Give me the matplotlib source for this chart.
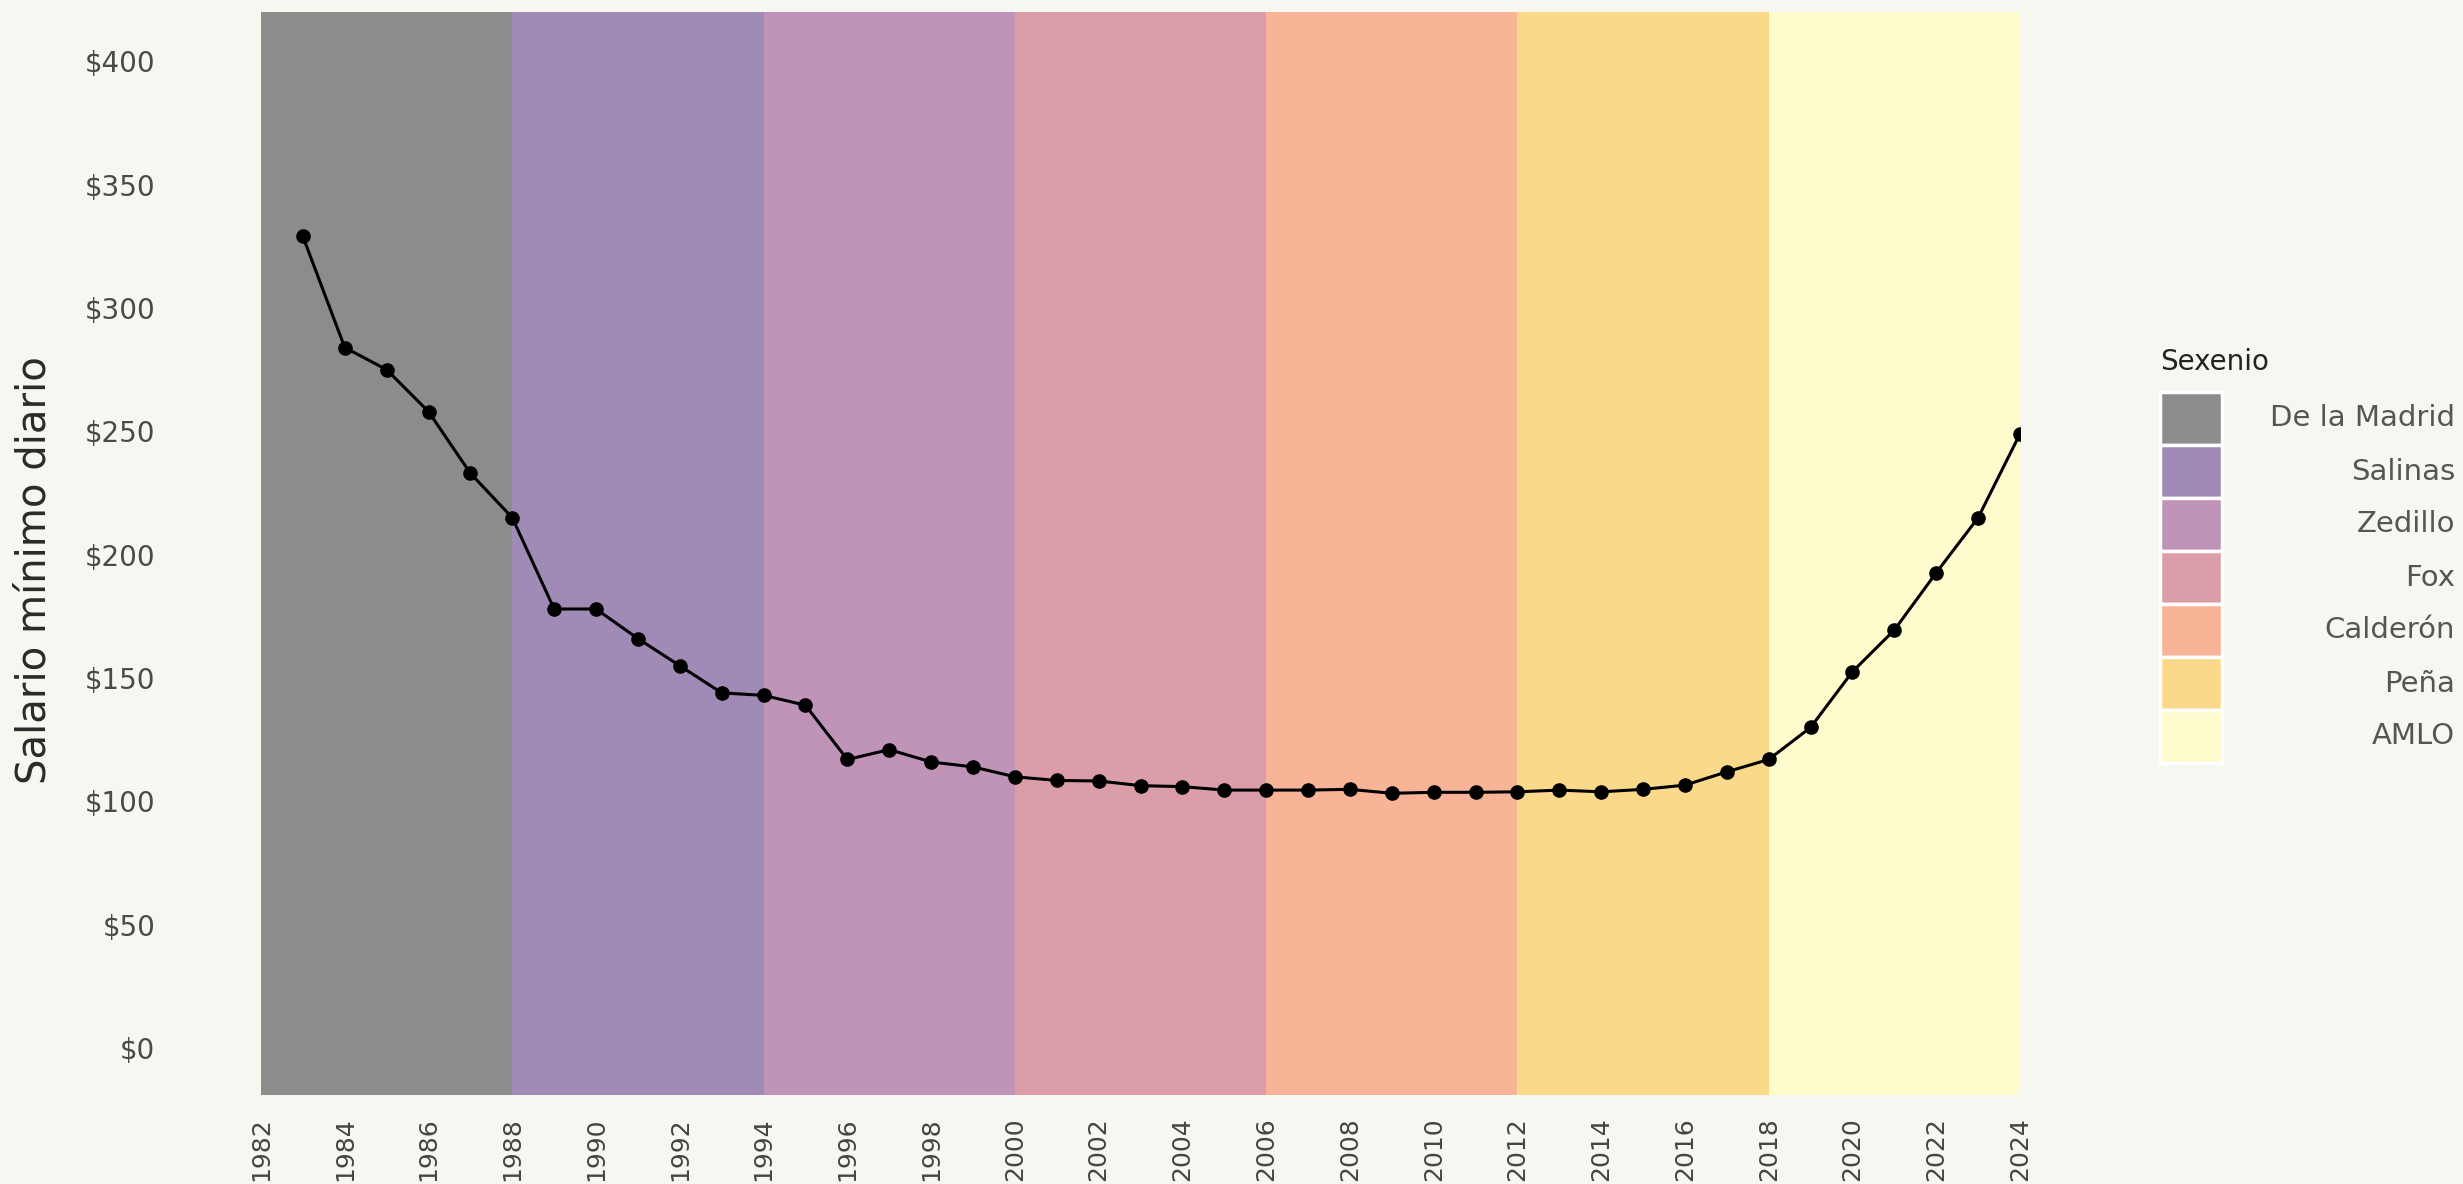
import matplotlib
matplotlib.use('Agg')
import matplotlib.pyplot as plt
from matplotlib.patches import Rectangle
from matplotlib.ticker import FuncFormatter

# Salario mínimo diario (pesos constantes)
years = list(range(1983, 2025))
salario = [329, 284, 275, 258, 233, 215, 178, 178, 166, 155,
           144, 143, 139, 117, 121, 116, 114, 110, 108.5, 108.3,
           106.4, 106, 104.6, 104.6, 104.6, 104.9, 103.3, 103.7, 103.7, 103.9,
           104.6, 103.9, 104.9, 106.6, 112, 117, 130, 152.6, 169.5, 192.7,
           215, 249]

# Sexenios
sexenios = ['De la Madrid', 'Salinas', 'Zedillo', 'Fox', 'Calderón', 'Peña', 'AMLO']
inicio = [1982, 1988, 1994, 2000, 2006, 2012, 2018]
fin = [1988, 1994, 2000, 2006, 2012, 2018, 2024]
colores = ['#8c8c8c', '#9f8bb5', '#c093b8', '#db9ea9', '#f8b496', '#fbd98b', '#fefccc']

BG = '#f7f7f2'
W, H, DPI = 2463, 1184, 100

fig = plt.figure(figsize=(W / DPI, H / DPI), dpi=DPI, facecolor=BG)
ax = fig.add_axes([261 / W, 1 - 1095 / H, (2020 - 261) / W, (1095 - 12) / H])
ax.set_facecolor(BG)

for x0, x1, c in zip(inicio, fin, colores):
    ax.axvspan(x0, x1, color=c, lw=0, zorder=1)

ax.plot(years, salario, color='black', lw=2.2, marker='o', markersize=9.5, zorder=3)

ax.set_xlim(1982, 2024)
ax.set_ylim(-19, 420)
ax.set_xticks(range(1982, 2025, 2))
ax.set_yticks(range(0, 401, 50))
ax.yaxis.set_major_formatter(FuncFormatter(lambda v, p: f'${v:.0f}'))
ax.tick_params(axis='x', rotation=90, labelsize=18, length=0, pad=16, colors='#444444')
ax.tick_params(axis='y', labelsize=20, length=0, pad=76, colors='#4a4a4a')
for s in ax.spines.values():
    s.set_visible(False)

ax.set_ylabel('Salario mínimo diario', fontsize=29, color='#2a2a2a')
ax.yaxis.set_label_coords((55 - 261) / 1759, 0.485)

# leyenda a mano (etiquetas alineadas a la derecha)
fig.text(2160 / W, 1 - 362 / H, 'Sexenio', fontsize=20, color='#222222',
         ha='left', va='center')
key_top, key_h, key_w = 392, 53, 62
for i, (nombre, c) in enumerate(zip(sexenios, colores)):
    y_top = key_top + i * key_h
    fig.add_artist(Rectangle((2160 / W, 1 - (y_top + key_h) / H), key_w / W, key_h / H,
                             transform=fig.transFigure, facecolor=c,
                             edgecolor='white', lw=2.5))
    fig.text(2455 / W, 1 - (y_top + key_h / 2) / H, nombre, fontsize=21,
             color='#555555', ha='right', va='center')

fig.savefig('out.png', dpi=DPI, facecolor=BG)
